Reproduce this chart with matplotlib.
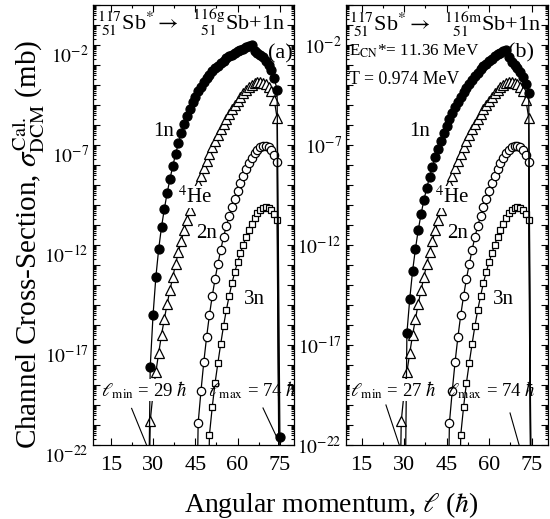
import numpy as np
import matplotlib
matplotlib.use('Agg')
import matplotlib.pyplot as plt
from matplotlib.ticker import FixedLocator, FuncFormatter, MultipleLocator, NullFormatter
from matplotlib.transforms import ScaledTranslation

plt.rcParams['font.family'] = ['Liberation Serif', 'DejaVu Serif']
plt.rcParams['mathtext.fontset'] = 'stix'

# ---------------- data (log10 of cross-section in mb) ----------------
L_1n_a = list(range(28, 76))
logS_1n_a = [-30, -18.1, -15.5, -13.6, -12.2, -11.1, -10.2, -9.4, -8.7, -8.05,
             -7.45, -6.9, -6.4, -5.95, -5.55, -5.2, -4.87, -4.58, -4.32, -4.08,
             -3.86, -3.66, -3.48, -3.32, -3.17, -3.03, -2.9, -2.78, -2.67, -2.57,
             -2.48, -2.4, -2.32, -2.25, -2.18, -2.12, -2.06, -2.0, -2.3, -2.4,
             -2.5, -2.62, -2.78, -2.98, -3.25, -3.65, -4.25, -21.6]

L_1n_b = list(range(30, 76))
logS_1n_b = [-30, -16.4, -14.7, -13.3, -12.2, -11.25, -10.45, -9.75, -9.15, -8.6,
             -8.1, -7.62, -7.18, -6.78, -6.4, -6.05, -5.72, -5.41, -5.12, -4.85,
             -4.6, -4.36, -4.14, -3.93, -3.73, -3.55, -3.38, -3.22, -3.07, -2.93,
             -2.8, -2.68, -2.57, -2.47, -2.38, -2.3, -2.23, -2.6, -2.85, -3.0,
             -3.15, -3.35, -3.6, -3.95, -4.4, -30]

L_4He = list(range(28, 76))
logS_4He = [-30, -20.8, -19.4, -18.35, -17.4, -16.5, -15.7, -14.95, -14.25, -13.6,
            -12.95, -12.35, -11.8, -11.25, -10.75, -10.25, -9.8, -9.35, -8.95, -8.55,
            -8.15, -7.8, -7.45, -7.1, -6.8, -6.5, -6.22, -5.95, -5.7, -5.45,
            -5.22, -5.0, -4.8, -4.6, -4.42, -4.26, -4.12, -4.0, -3.92, -3.87,
            -3.85, -3.88, -3.97, -4.1, -4.3, -4.75, -5.65, -30]

L_2n = list(range(45, 76))
logS_2n = [-30, -20.9, -19.3, -17.85, -16.6, -15.5, -14.55, -13.7, -12.95, -12.25,
           -11.6, -11.05, -10.55, -10.1, -9.68, -9.28, -8.9, -8.55, -8.22, -7.92,
           -7.65, -7.42, -7.23, -7.1, -7.03, -7.03, -7.1, -7.25, -7.5, -7.85, -30]

L_3n = list(range(49, 76))
logS_3n = [-30, -21.5, -20.1, -18.9, -17.9, -16.95, -16.05, -15.25, -14.55, -13.9,
           -13.35, -12.85, -12.4, -11.98, -11.6, -11.25, -10.93, -10.65, -10.42, -10.25,
           -10.13, -10.1, -10.15, -10.27, -10.45, -10.75, -30]

x_ticks = [15, 30, 45, 60, 75]
y_label_exps = [-22, -17, -12, -7, -2]

# ---------------- figure ----------------
fig = plt.figure(figsize=(5.5, 5.19), dpi=100)
axA = fig.add_axes([93/550, 1-445/519, 201/550, 440/519])
axB = fig.add_axes([346/550, 1-445/519, 202/550, 440/519])

def style_axis(ax, xlim):
    ax.set_yscale('log')
    ax.set_ylim(1e-22, 1)
    ax.set_xlim(*xlim)
    ax.xaxis.set_major_locator(FixedLocator(x_ticks))
    ax.xaxis.set_minor_locator(MultipleLocator(7.5))
    ax.yaxis.set_major_locator(FixedLocator(10.0**np.arange(-22, 1)))
    minors = [s*10.0**e for e in range(-22, 0) for s in range(2, 10)]
    ax.yaxis.set_minor_locator(FixedLocator(minors))
    ax.yaxis.set_minor_formatter(NullFormatter())
    def fmt(v, pos):
        e = int(round(np.log10(v)))
        return r'$10^{%d}$' % e if e in y_label_exps else ''
    ax.yaxis.set_major_formatter(FuncFormatter(fmt))
    ax.tick_params(which='both', direction='in', top=True, right=True, width=0.8)
    ax.tick_params(which='major', length=5)
    ax.tick_params(which='minor', length=2.5)
    ax.tick_params(axis='x', which='major', pad=8, labelsize=16)
    ax.tick_params(axis='y', which='major', pad=3, labelsize=14)
    for sp in ax.spines.values():
        sp.set_linewidth(0.9)

def draw_curves(ax, L1, S1):
    kw = dict(color='k', lw=0.9, mec='k', mew=0.9)
    ax.plot(L_3n, 10.0**np.array(logS_3n), marker='s', ms=5, mfc='white', **kw)
    ax.plot(L_2n, 10.0**np.array(logS_2n), marker='o', ms=6, mfc='white', **kw)
    ax.plot(L_4He, 10.0**np.array(logS_4He), marker='^', ms=6.5, mfc='white', **kw)
    ax.plot(L1, 10.0**np.array(S1), marker='o', ms=6.5, mfc='k', **kw)

style_axis(axA, (8.7, 80.0))
style_axis(axB, (9.5, 80.8))
draw_curves(axA, L_1n_a, logS_1n_a)
draw_curves(axB, L_1n_b, logS_1n_b)

# shift panel (a) y tick labels down a bit, as in the reference
for t in axA.yaxis.get_major_ticks():
    t.label1.set_transform(t.label1.get_transform() +
                           ScaledTranslation(0, -0.09, fig.dpi_scale_trans))

lab_fs = 15
wbox = dict(facecolor='white', edgecolor='none', pad=0.5)
title_a = r'$^{117}_{\ 51}$Sb$^{*}$$\rightarrow$  $^{116\mathrm{g}}_{\ \ 51}$Sb+1n'
title_b = r'$^{117}_{\ 51}$Sb$^{*}$$\rightarrow$  $^{116\mathrm{m}}_{\ \ 51}$Sb+1n'
# panel a labels
axA.text(33.9, 10**-6.35, '1n', fontsize=lab_fs, ha='center', va='center')
axA.text(44.9, 10**-9.6, r'$^{4}$He', fontsize=lab_fs, ha='center', va='center', bbox=wbox)
axA.text(49.1, 10**-11.4, '2n', fontsize=lab_fs, ha='center', va='center')
axA.text(65.8, 10**-14.75, '3n', fontsize=lab_fs, ha='center', va='center')
axA.text(0.93, 0.89, '(a)', fontsize=16, ha='center', va='center', transform=axA.transAxes)
axA.text(0.02, 0.962, title_a, fontsize=16, ha='left', va='center', transform=axA.transAxes)
# panel b labels
axB.text(35.6, 10**-6.3, '1n', fontsize=lab_fs, ha='center', va='center')
axB.text(46.9, 10**-9.6, r'$^{4}$He', fontsize=lab_fs, ha='center', va='center', bbox=wbox)
axB.text(49.0, 10**-11.4, '2n', fontsize=lab_fs, ha='center', va='center')
axB.text(64.9, 10**-14.75, '3n', fontsize=lab_fs, ha='center', va='center')
axB.text(0.865, 0.892, '(b)', fontsize=16, ha='center', va='center', transform=axB.transAxes)
axB.text(0.955 - 0.94, 0.955, title_b, fontsize=16, ha='left', va='center', transform=axB.transAxes)
axB.text(0.015, 0.895, r'E$_{\mathrm{CN}}$*= 11.36 MeV', fontsize=12.3, ha='left', va='center',
         transform=axB.transAxes)
axB.text(0.015, 0.83, 'T = 0.974 MeV', fontsize=12.8, ha='left', va='center',
         transform=axB.transAxes)

# l_min / l_max annotations
ann_fs = 13.5
axA.text(11.5, 10**-19.25, r'$\ell_{\mathrm{min}}$ = 29 $\hbar$', fontsize=ann_fs,
         ha='left', va='center', bbox=dict(facecolor='white', edgecolor='none', pad=0.3))
axA.text(49.5, 10**-19.25, r'$\ell_{\mathrm{max}}$ = 74 $\hbar$', fontsize=ann_fs,
         ha='left', va='center')
axA.plot([22.4, 27.7], [10**-20.17, 1e-22], color='k', lw=0.8)
axA.plot([69.0, 73.85], [10**-20.15, 10**-21.6], color='k', lw=0.8)

axB.text(10.9, 10**-19.25, r'$\ell_{\mathrm{min}}$ = 27 $\hbar$', fontsize=ann_fs,
         ha='left', va='center', bbox=dict(facecolor='white', edgecolor='none', pad=0.3))
axB.text(45.2, 10**-19.25, r'$\ell_{\mathrm{max}}$ = 74 $\hbar$', fontsize=ann_fs,
         ha='left', va='center')
axB.plot([23.6, 28.3], [10**-20.0, 1e-22], color='k', lw=0.8)
axB.plot([67.4, 70.6], [10**-20.4, 1e-22], color='k', lw=0.8)

fig.text(29/550, 1-244/519, r'Channel Cross-Section, $\sigma^{\mathrm{Cal.}}_{\mathrm{DCM}}$ (mb)',
         rotation=90, ha='center', va='center', fontsize=21)
fig.text(331/550, 1-505/519, r'Angular momentum, $\ell$ ($\hbar$)',
         ha='center', va='center', fontsize=20)

fig.savefig('out.png', dpi=100)
